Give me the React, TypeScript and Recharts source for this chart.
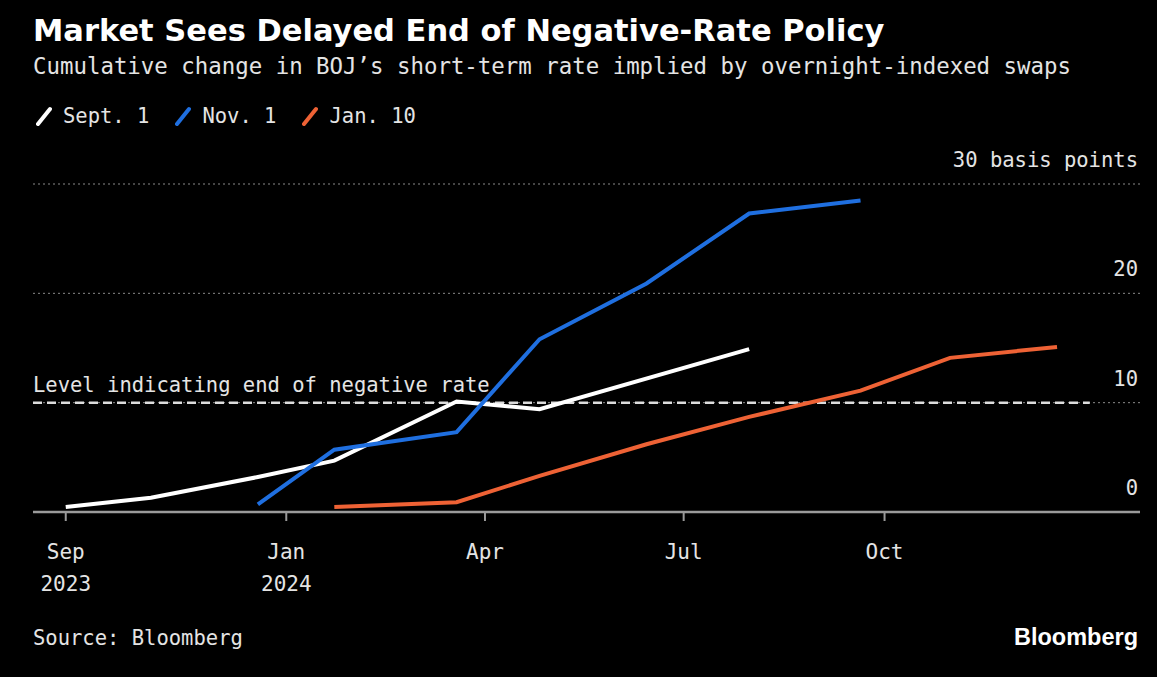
import React from 'react'
import {
  CartesianGrid,
  Line,
  LineChart,
  ReferenceLine,
  XAxis,
  YAxis
} from 'recharts'

// BOJ policy meeting dates the swaps price off
const meetingDates = [
  '2023-09-22', '2023-10-31', '2023-12-19', '2024-01-23', '2024-03-19',
  '2024-04-26', '2024-06-14', '2024-07-31', '2024-09-20', '2024-10-31', '2024-12-19'
]
// cumulative change, basis points, as of each curve date
const sept1 = [0.45, 1.3, 3.2, 4.7, 10.1, 9.4, null, 14.9, null, null, null]
const nov1 = [null, null, 0.7, 5.7, 7.3, 15.8, 20.9, 27.3, 28.5, null, null]
const jan10 = [null, null, null, 0.45, 0.9, 3.3, 6.2, 8.7, 11.1, 14.1, 15.1]

const xTicks = ['2023-09-22', '2024-01-01', '2024-04-01', '2024-07-01', '2024-10-01']
const xTickLabels = [['Sep', '2023'], ['Jan', '2024'], ['Apr'], ['Jul'], ['Oct']]
const yTicks = [0, 10, 20, 30]
const yTickLabels = ['0', '10', '20', '30 basis points']
const negativeRateLevel = 10

const series = [
  { key: 'sept1', name: 'Sept. 1', color: '#ffffff' },
  { key: 'nov1', name: 'Nov. 1', color: '#1f6fe0' },
  { key: 'jan10', name: 'Jan. 10', color: '#ee6235' }
]

const toTs = (d: string) => Date.parse(d + 'T00:00:00Z')

const data = meetingDates.map((d, i) => ({
  t: toTs(d),
  sept1: sept1[i],
  nov1: nov1[i],
  jan10: jan10[i]
}))

const xMin = toTs('2023-09-07')
const xMax = toTs('2025-01-26')
const dashEnd = toTs('2025-01-03')

const W = 1157
const H = 677
const MONO = '"DejaVu Sans Mono", monospace'
const TEXT = '#e4e4e4'
const PLOT_RIGHT = 1140

const renderXTick = (props: any) => {
  const { x, y, payload } = props
  const idx = xTicks.findIndex(d => toTs(d) === payload.value)
  const lines = xTickLabels[idx] || []
  return (
    <g>
      {lines.map((l, i) => (
        <text key={i} x={x} y={y + 36 + i * 32} textAnchor="middle" fill={TEXT} fontSize={21} fontFamily={MONO}>
          {l}
        </text>
      ))}
    </g>
  )
}

const renderYTick = (props: any) => {
  const { y, payload } = props
  const idx = yTicks.indexOf(Number(payload.value))
  return (
    <text x={PLOT_RIGHT - 2} y={y - 17} textAnchor="end" fill={TEXT} fontSize={20.5} fontFamily={MONO}>
      {idx >= 0 ? yTickLabels[idx] : payload.value}
    </text>
  )
}

const LevelLabel = (props: any) => {
  const vb = props.viewBox || {}
  return (
    <text x={vb.x} y={vb.y - 11} fill={TEXT} fontSize={20.5} fontFamily={MONO}>
      Level indicating end of negative rate
    </text>
  )
}

export default function App () {
  return (
    <div style={{ position: 'absolute', left: 0, top: 0, width: W, height: H, background: '#000', overflow: 'hidden', fontFamily: MONO }}>
      <div style={{ position: 'absolute', left: 33, top: 13, color: '#fff', fontSize: 30.5, fontWeight: 700, whiteSpace: 'nowrap', fontFamily: '"DejaVu Sans", sans-serif' }}>
        Market Sees Delayed End of Negative-Rate Policy
      </div>
      <div style={{ position: 'absolute', left: 33, top: 53, color: TEXT, fontSize: 22.4, whiteSpace: 'nowrap' }}>
        Cumulative change in BOJ’s short-term rate implied by overnight-indexed swaps
      </div>
      <div style={{ position: 'absolute', left: 36, top: 104, display: 'flex', alignItems: 'center', color: TEXT, fontSize: 20.5, whiteSpace: 'nowrap' }}>
        {series.map(s => (
          <div key={s.key} style={{ display: 'flex', alignItems: 'center', marginRight: 26 }}>
            <svg width={16} height={22} style={{ marginRight: 11 }}>
              <line x1={2} y1={19} x2={14} y2={4} stroke={s.color} strokeWidth={4} strokeLinecap="round" />
            </svg>
            <span>{s.name}</span>
          </div>
        ))}
      </div>
      <LineChart
        width={W}
        height={H}
        data={data}
        margin={{ top: 184, right: W - PLOT_RIGHT - 1, bottom: 105, left: 33 }}
        style={{ position: 'absolute', left: 0, top: 0 }}
      >
        <CartesianGrid vertical={false} stroke="#8a8a8a" strokeDasharray="2 3" />
        <XAxis
          dataKey="t"
          type="number"
          scale="time"
          domain={[xMin, xMax]}
          ticks={xTicks.map(toTs)}
          tick={renderXTick}
          tickSize={9}
          height={60}
          axisLine={{ stroke: '#9a9a9a', strokeWidth: 2.5 }}
          tickLine={{ stroke: '#9a9a9a', strokeWidth: 2 }}
          interval={0}
        />
        <YAxis
          orientation="right"
          width={1}
          type="number"
          domain={[0, 30]}
          ticks={yTicks}
          tick={renderYTick}
          axisLine={false}
          tickLine={false}
          interval={0}
        />
        <ReferenceLine
          segment={[{ x: xMin, y: negativeRateLevel }, { x: dashEnd, y: negativeRateLevel }]}
          stroke="#dcdcdc"
          strokeWidth={2.5}
          strokeDasharray="9 5"
          label={<LevelLabel />}
        />
        {series.map(s => (
          <Line
            key={s.key}
            dataKey={s.key}
            name={s.name}
            type="linear"
            stroke={s.color}
            strokeWidth={4}
            dot={false}
            connectNulls
            isAnimationActive={false}
          />
        ))}
      </LineChart>
      <div style={{ position: 'absolute', left: 33, top: 626, color: TEXT, fontSize: 20.5 }}>
        Source: Bloomberg
      </div>
      <div style={{ position: 'absolute', right: 1157 - 1138, top: 624, color: '#fff', fontSize: 23.5, fontWeight: 700, fontFamily: '"Liberation Sans", sans-serif' }}>
        Bloomberg
      </div>
    </div>
  )
}
